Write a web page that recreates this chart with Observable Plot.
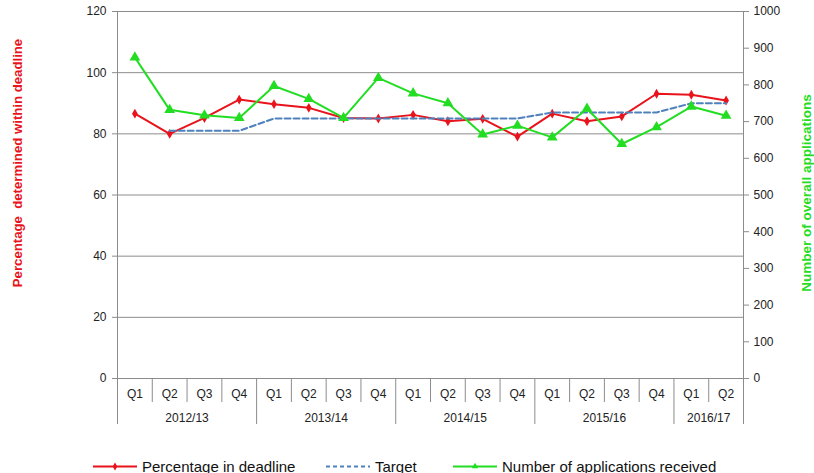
<!DOCTYPE html>
<html><head><meta charset="utf-8">
<script src="https://cdn.jsdelivr.net/npm/d3@7"></script>
<script src="https://cdn.jsdelivr.net/npm/@observablehq/plot@0.6"></script>
<style>
body{margin:0;background:#fff;font-family:"Liberation Sans",Arial,sans-serif;}
#wrap{position:relative;width:814px;height:473px;overflow:hidden;}
#legend{position:absolute;left:0;top:449px;width:814px;height:24px;font-size:15px;color:#111;}
.item{position:absolute;top:17px;display:flex;align-items:center;white-space:nowrap;}
.item svg{margin-right:5px;}
</style></head><body><div id="wrap"><div id="chart"></div><div id="legend"></div></div>
<script>
const years = ["2012/13","2013/14","2014/15","2015/16","2016/17"];
const yearQuarterCount = [4,4,4,4,2];
const quarters = ["Q1","Q2","Q3","Q4","Q1","Q2","Q3","Q4","Q1","Q2","Q3","Q4","Q1","Q2","Q3","Q4","Q1","Q2"];
const percentage = [86.6,80.0,85.2,91.2,89.7,88.5,85.2,85.0,86.2,84.1,84.9,79.1,86.6,84.1,85.7,93.1,92.8,90.9];
const target = [null,81,81,81,85,85,85,85,85,85,85,85,87,87,87,87,90,90];
const applications = [875,732,717,710,797,762,710,819,777,750,665,689,657,735,639,685,741,716];
const leftTicks = [0,20,40,60,80,100,120];
const rightTicks = [0,100,200,300,400,500,600,700,800,900,1000];
const leftLabel = "Percentage  determined within deadline";
const rightLabel = "Number of overall applications";
const seriesNames = ["Percentage in deadline","Target","Number of applications received"];

const RED = "#e8131b", BLUE = "#4f81bd", GREEN = "#22dd22", GRID = "#8c8c8c", TXT = "#222";
const ratio = 120 / 1000;
const n = quarters.length;
const rows = quarters.map((q, i) => ({
  i, x: i + 0.5, q, pct: percentage[i], target: target[i], apps: applications[i] * ratio
}));
let start = 0;
const yearRows = years.map((y, k) => {
  const r = {year: y, start, end: start + yearQuarterCount[k]};
  start = r.end;
  return r;
});
const yearBounds = [0, ...yearRows.map(r => r.end)];
const quarterBounds = d3.range(1, n).filter(b => !yearBounds.includes(b));

const chart = Plot.plot({
  width: 814,
  height: 440,
  marginLeft: 117,
  marginRight: 71,
  marginTop: 11,
  marginBottom: 62,
  style: {fontFamily: '"Liberation Sans", Arial, sans-serif', fontSize: "12px", background: "#fff", overflow: "visible"},
  x: {domain: [0, n], axis: null},
  y: {domain: [0, 120], axis: null},
  marks: [
    Plot.ruleY(leftTicks.slice(1), {stroke: GRID}),
    Plot.ruleY([0], {stroke: GRID}),
    Plot.ruleX([0, n], {stroke: GRID}),
    Plot.axisY(leftTicks, {anchor: "left", tickSize: 5, tickPadding: 6, stroke: GRID, fill: TXT, fontSize: 12, label: null}),
    Plot.axisY(rightTicks.map(v => v * ratio), {anchor: "right", tickSize: 5, tickPadding: 5, stroke: GRID, fill: TXT, fontSize: 12, label: null, tickFormat: d => String(Math.round(d / ratio))}),
    Plot.ruleX(quarterBounds, {y1: 0, y2: 0, insetBottom: -24, stroke: GRID}),
    Plot.ruleX(yearBounds, {y1: 0, y2: 0, insetBottom: -46, stroke: GRID}),
    Plot.text(rows, {x: "x", text: "q", frameAnchor: "bottom", dy: 19, fill: TXT, fontSize: 12}),
    Plot.text(yearRows, {x: d => (d.start + d.end) / 2, text: "year", frameAnchor: "bottom", dy: 43, fill: TXT, fontSize: 12}),
    Plot.line(rows, {x: "x", y: "pct", stroke: RED, strokeWidth: 2}),
    Plot.dot(rows, {x: "x", y: "pct", symbol: "diamond", r: 3, fill: RED, stroke: "none"}),
    Plot.line(rows, {x: "x", y: "target", stroke: BLUE, strokeWidth: 2, strokeDasharray: "6,3"}),
    Plot.line(rows, {x: "x", y: "apps", stroke: GREEN, strokeWidth: 2}),
    Plot.dot(rows, {x: "x", y: "apps", symbol: "triangle", r: 4, fill: GREEN, stroke: "none"}),
    Plot.text([leftLabel], {frameAnchor: "left", textAnchor: "middle", dx: -100, dy: -32, rotate: -90, fill: RED, fontWeight: "bold", fontSize: 13.2}),
    Plot.text([rightLabel], {frameAnchor: "right", textAnchor: "middle", dx: 63, dy: -2, rotate: -90, fill: GREEN, fontWeight: "bold", fontSize: 13.5})
  ]
});
document.getElementById("chart").appendChild(chart);

// Legend
const legend = d3.select("#legend");
const items = [
  {left: 93, color: RED, dash: null, marker: "diamond"},
  {left: 326, color: BLUE, dash: "4,3", marker: null},
  {left: 453, color: GREEN, dash: null, marker: "triangle"}
];
items.forEach((it, k) => {
  const div = legend.append("div").attr("class", "item").style("left", it.left + "px").style("transform", "translateY(-50%)");
  const svg = div.append("svg").attr("width", 44).attr("height", 10);
  svg.append("line").attr("x1", 0).attr("x2", 44).attr("y1", 5).attr("y2", 5)
    .attr("stroke", it.color).attr("stroke-width", 2).attr("stroke-dasharray", it.dash);
  if (it.marker) {
    svg.append("path").attr("transform", "translate(22,5)")
      .attr("d", d3.symbol(it.marker === "diamond" ? d3.symbolDiamond : d3.symbolTriangle, 18)())
      .attr("fill", it.color);
  }
  div.append("span").text(seriesNames[k]);
});
</script></body></html>
